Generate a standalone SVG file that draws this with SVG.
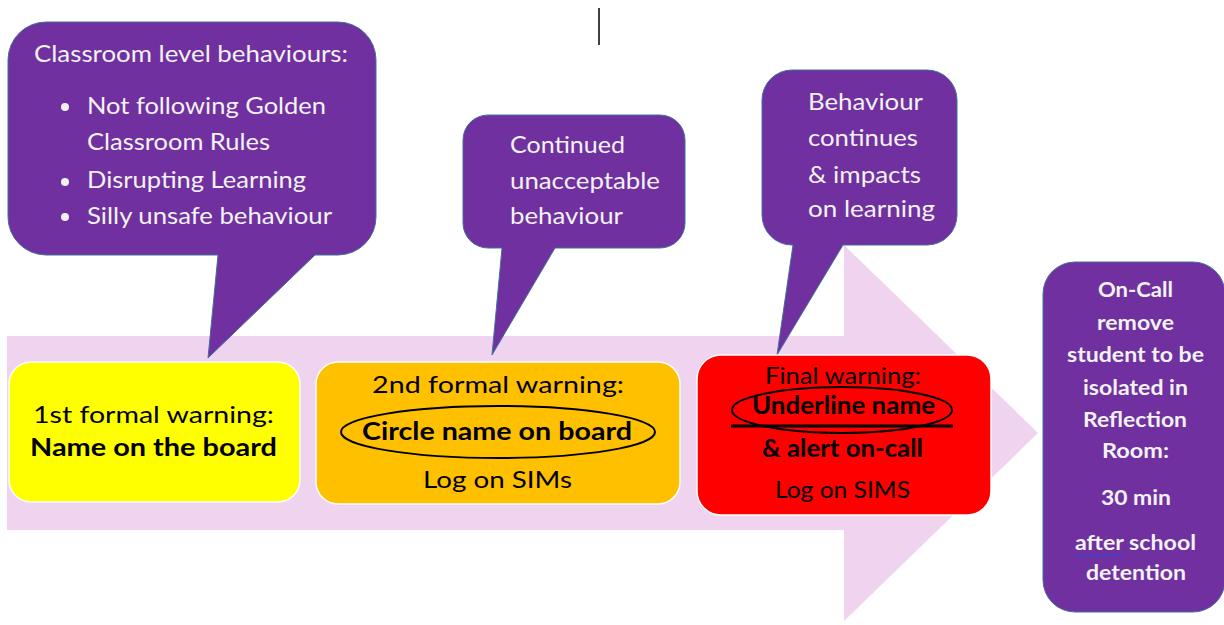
<svg xmlns="http://www.w3.org/2000/svg" width="1224" height="625" viewBox="0 0 1224 625">
<style>
text{font-family:Lato,"Liberation Sans",sans-serif;}
.call{fill:#7030A0;stroke:#41719C;stroke-width:1;}
.wt{fill:#F2F2F2;font-size:23px;}
.bx{font-size:24px;fill:#000;}
.b{font-weight:bold;}
.oc{fill:#F2F2F2;font-size:20px;font-weight:bold;text-anchor:middle;}
</style>
<rect width="1224" height="625" fill="#fff"/>
<line x1="599" y1="8" x2="599" y2="45" stroke="#000" stroke-width="1.5"/>
<g id="connectors">
<polygon id="big-arrow" points="7,336 844,336 844,245 1038,433 844,621 844,530 7,530" fill="#EFD3EF"/>
</g>
<g id="callout1">
<path class="call" d="M46,22 H338 A38 38 0 0 1 376,60 V217 A38 38 0 0 1 338,255 H315 L208,358 L218,255 H46 A38 38 0 0 1 8,217 V60 A38 38 0 0 1 46,22 Z"/>
<text class="wt" x="34" y="62" textLength="314" lengthAdjust="spacingAndGlyphs">Classroom level behaviours:</text>
<circle cx="65" cy="107" r="4" fill="#F2F2F2"/>
<circle cx="65" cy="182" r="4" fill="#F2F2F2"/>
<circle cx="65" cy="217" r="4" fill="#F2F2F2"/>
<text class="wt" x="87" y="114" textLength="239" lengthAdjust="spacingAndGlyphs">Not following Golden</text>
<text class="wt" x="87" y="150" textLength="183" lengthAdjust="spacingAndGlyphs">Classroom Rules</text>
<text class="wt" x="87" y="188" textLength="219" lengthAdjust="spacingAndGlyphs">Disrupting Learning</text>
<text class="wt" x="87" y="224" textLength="245" lengthAdjust="spacingAndGlyphs">Silly unsafe behaviour</text>
</g>
<g id="callout2">
<path class="call" d="M488,115 H660 A25 25 0 0 1 685,140 V223 A25 25 0 0 1 660,248 H555 L492,355 L502,248 H488 A25 25 0 0 1 463,223 V140 A25 25 0 0 1 488,115 Z"/>
<text class="wt" x="510" y="153" textLength="115" lengthAdjust="spacingAndGlyphs">Continued</text>
<text class="wt" x="510" y="189" textLength="150" lengthAdjust="spacingAndGlyphs">unacceptable</text>
<text class="wt" x="510" y="224" textLength="113" lengthAdjust="spacingAndGlyphs">behaviour</text>
</g>
<g id="callout3">
<path class="call" d="M792,70 H927 A30 30 0 0 1 957,100 V215 A30 30 0 0 1 927,245 H843 L777,355 L793,245 H792 A30 30 0 0 1 762,215 V100 A30 30 0 0 1 792,70 Z"/>
<text class="wt" x="808" y="110" textLength="115" lengthAdjust="spacingAndGlyphs">Behaviour</text>
<text class="wt" x="808" y="146" textLength="110" lengthAdjust="spacingAndGlyphs">continues</text>
<text class="wt" x="808" y="183" textLength="113" lengthAdjust="spacingAndGlyphs">&amp; impacts</text>
<text class="wt" x="808" y="217" textLength="127" lengthAdjust="spacingAndGlyphs">on learning</text>
</g>
<g id="box1">
<rect x="9" y="362" width="291" height="140" rx="22" fill="#FFFF00" stroke="#fff" stroke-width="1.5"/>
<text class="bx" x="33" y="423" textLength="241" lengthAdjust="spacingAndGlyphs">1st formal warning:</text>
<text class="bx b" x="30" y="456" textLength="247" lengthAdjust="spacingAndGlyphs">Name on the board</text>
</g>
<g id="box2">
<rect x="316" y="362" width="364" height="142" rx="22" fill="#FFC000" stroke="#fff" stroke-width="1.5"/>
<text class="bx" x="372" y="393" textLength="252" lengthAdjust="spacingAndGlyphs">2nd formal warning:</text>
<ellipse cx="498" cy="432" rx="157" ry="26" fill="none" stroke="#000" stroke-width="2"/>
<text class="bx b" x="362" y="440" textLength="270" lengthAdjust="spacingAndGlyphs">Circle name on board</text>
<text class="bx" x="423" y="488" textLength="149" lengthAdjust="spacingAndGlyphs">Log on SIMs</text>
</g>
<g id="box3">
<rect x="697" y="355" width="294" height="160" rx="24" fill="#FF0000" stroke="#fff" stroke-width="1.5"/>
<text class="bx" x="765" y="384" textLength="156" lengthAdjust="spacingAndGlyphs">Final warning:</text>
<ellipse cx="842" cy="410" rx="110" ry="23" fill="none" stroke="#000" stroke-width="2"/>
<text class="bx b" x="752" y="414" textLength="183" lengthAdjust="spacingAndGlyphs">Underline name</text>
<line x1="731" y1="426" x2="953" y2="426" stroke="#000" stroke-width="3"/>
<text class="bx b" x="762" y="457" textLength="161" lengthAdjust="spacingAndGlyphs">&amp; alert on-call</text>
<text class="bx" x="775" y="498" textLength="135" lengthAdjust="spacingAndGlyphs">Log on SIMS</text>
</g>
<g id="oncall">
<rect class="call" x="1043" y="262" width="182" height="350" rx="32"/>
<text class="oc" x="1135.5" y="297" textLength="75" lengthAdjust="spacingAndGlyphs">On-Call</text>
<text class="oc" x="1135.5" y="330" textLength="77" lengthAdjust="spacingAndGlyphs">remove</text>
<text class="oc" x="1135.5" y="362" textLength="137" lengthAdjust="spacingAndGlyphs">student to be</text>
<text class="oc" x="1135.5" y="395" textLength="105" lengthAdjust="spacingAndGlyphs">isolated in</text>
<text class="oc" x="1135" y="427" textLength="104" lengthAdjust="spacingAndGlyphs">Reflection</text>
<text class="oc" x="1135.5" y="458" textLength="67" lengthAdjust="spacingAndGlyphs">Room:</text>
<text class="oc" x="1136" y="505" textLength="70" lengthAdjust="spacingAndGlyphs">30 min</text>
<text class="oc" x="1135.5" y="550" textLength="121" lengthAdjust="spacingAndGlyphs">after school</text>
<path d="M1075,555.5 q1.5,-2 3,0 t3,0 t3,0 t3,0 t3,0 t3,0 t3,0 t3,0 t3,0 t3,0 t3,0 t3,0 t3,0 t3,0 t3,0 t3,0" fill="none" stroke="#3344DD" stroke-width="1.2"/>
<text class="oc" x="1136" y="580" textLength="100" lengthAdjust="spacingAndGlyphs">detention</text>
</g>
</svg>
